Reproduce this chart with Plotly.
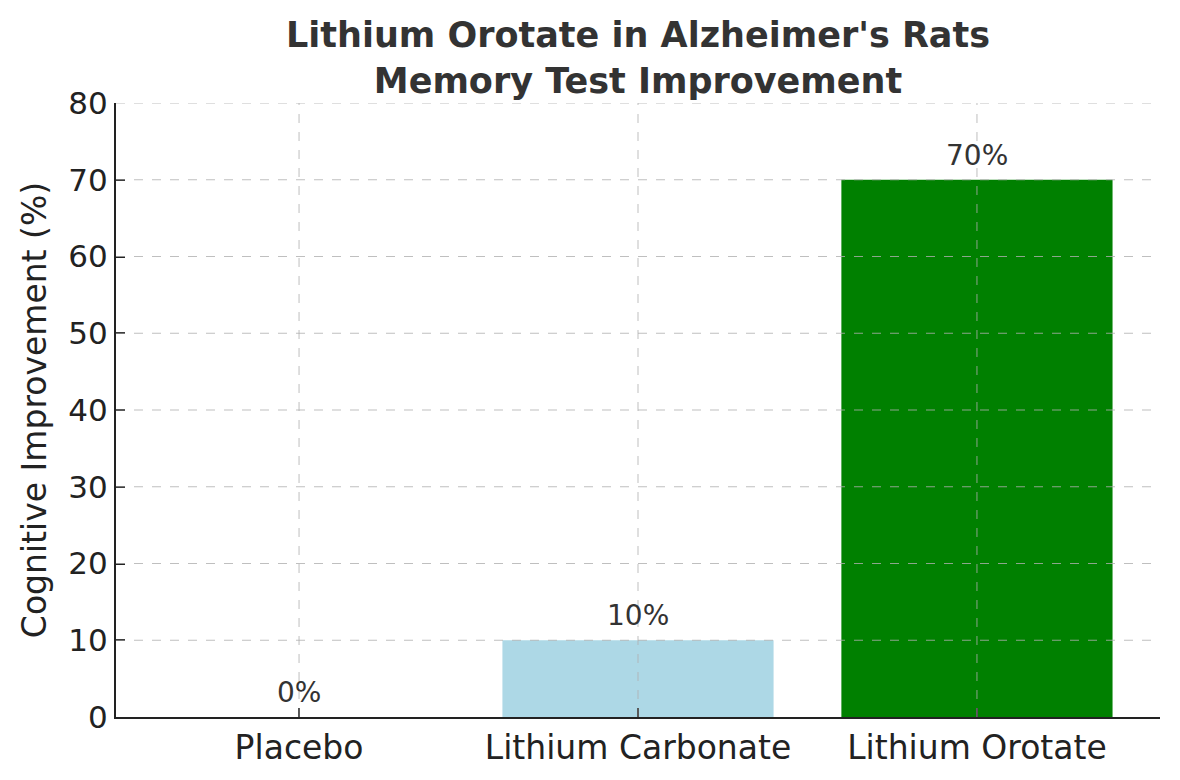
import plotly.graph_objects as go

categories = ["Placebo", "Lithium Carbonate", "Lithium Orotate"]
improvement = [0, 10, 70]
bar_colors = ["gray", "lightblue", "green"]
y_ticks = [0, 10, 20, 30, 40, 50, 60, 70, 80]

font_family = "DejaVu Sans"
grid_color = "rgba(175,175,175,0.8)"

fig = go.Figure()
fig.add_trace(go.Bar(x=categories, y=improvement, marker_color=bar_colors,
                     marker_line_width=0, width=0.8))

# value labels above each bar
for cat, val in zip(categories, improvement):
    fig.add_annotation(x=cat, y=val, text=f"{val}%", showarrow=False,
                       yanchor="bottom", yshift=6,
                       font=dict(family=font_family, size=28, color="#333333"))

# matplotlib draws the grid over the bars, so use shapes above traces
for t in y_ticks[1:]:
    fig.add_shape(type="line", xref="paper", x0=0, x1=1, yref="y", y0=t, y1=t,
                  line=dict(color=grid_color, width=1, dash="dash"), layer="above")
for cat in categories:
    fig.add_shape(type="line", xref="x", x0=cat, x1=cat, yref="paper", y0=0, y1=1,
                  line=dict(color=grid_color, width=1, dash="dash"), layer="above")

fig.update_layout(
    width=1180, height=780,
    margin=dict(l=108, r=28, t=95, b=71),
    paper_bgcolor="white", plot_bgcolor="white",
    showlegend=False,
    font=dict(family=font_family, color="#222222"),
    title=dict(text="<b>Lithium Orotate in Alzheimer's Rats<br>Memory Test Improvement</b>",
               x=0.5, xref="paper", xanchor="center", y=0.950, yanchor="top",
               font=dict(family=font_family, size=35, color="#333333")),
)
fig.update_xaxes(range=[-0.54, 2.54], showgrid=False, zeroline=False,
                 showline=True, linecolor="#222222", linewidth=2,
                 ticks="inside", ticklen=9, tickwidth=2, tickcolor="#222222",
                 tickfont=dict(size=33, color="#222222"), layer="above traces")
fig.update_yaxes(range=[0, 80], tickvals=y_ticks, showgrid=False, zeroline=False,
                 showline=True, linecolor="#222222", linewidth=2,
                 ticks="inside", ticklen=9, tickwidth=2, tickcolor="#222222",
                 tickfont=dict(size=31, color="#222222"), layer="above traces",
                 title=dict(text="Cognitive Improvement (%)", standoff=12,
                            font=dict(size=33, color="#222222")))

fig.write_html("out.html")
